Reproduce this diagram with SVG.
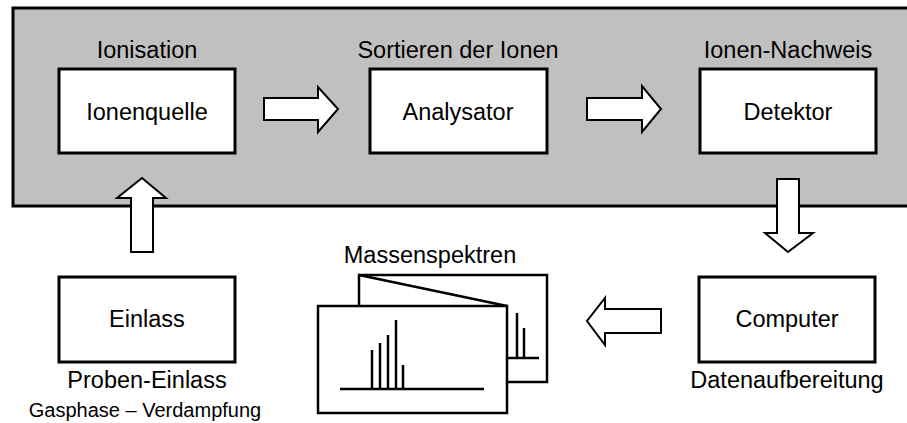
<svg xmlns="http://www.w3.org/2000/svg" width="907" height="423" viewBox="0 0 907 423">
  <style>
    .box { fill: #ffffff; stroke: #000000; stroke-width: 3; }
    .arrow { fill: #ffffff; stroke: #000000; stroke-width: 2; stroke-linejoin: miter; }
    .card { fill: #ffffff; stroke: #000000; stroke-width: 2.5; }
    .peak { stroke: #000000; stroke-width: 2.5; fill: none; }
    text { font-family: "Liberation Sans", Arial, sans-serif; font-size: 23.5px; fill: #000000; text-anchor: middle; }
    .small { font-size: 20px; }
  </style>

  <!-- vacuum section (gray panel) -->
  <rect id="panel" x="13" y="8" width="910" height="198" fill="#c0c0c0" stroke="#000000" stroke-width="3"/>

  <!-- connectors: block arrows -->
  <g id="connectors">
    <!-- Ionenquelle -> Analysator -->
    <polygon class="arrow" points="264,98 318,98 318,87 338,109 318,132 318,120 264,120"/>
    <!-- Analysator -> Detektor -->
    <polygon class="arrow" points="587,98 642,98 642,86 661,109 642,132 642,120 587,120"/>
    <!-- Detektor -> Computer -->
    <polygon class="arrow" points="777,179 799,179 799,233 813,233 788,252 765,233 777,233"/>
    <!-- Computer -> Massenspektren -->
    <polygon class="arrow" points="661,309 605,309 605,298 587,321 605,345 605,333 661,333"/>
    <!-- Einlass -> Ionenquelle -->
    <polygon class="arrow" points="131,252 153,252 153,198 166,198 142,178 117,198 131,198"/>
  </g>

  <g id="ionenquelle">
    <text x="147" y="58">Ionisation</text>
    <rect class="box" x="59" y="69" width="176" height="84"/>
    <text x="147" y="120">Ionenquelle</text>
  </g>

  <g id="analysator">
    <text x="458" y="58">Sortieren der Ionen</text>
    <rect class="box" x="370" y="69" width="177" height="84"/>
    <text x="458" y="120">Analysator</text>
  </g>

  <g id="detektor">
    <text x="788" y="58">Ionen-Nachweis</text>
    <rect class="box" x="700" y="69" width="176" height="84"/>
    <text x="788" y="120">Detektor</text>
  </g>

  <g id="einlass">
    <rect class="box" x="59" y="277" width="176" height="85"/>
    <text x="147" y="327">Einlass</text>
    <text x="147" y="388">Proben-Einlass</text>
    <text class="small" x="145" y="417">Gasphase – Verdampfung</text>
  </g>

  <g id="computer">
    <rect class="box" x="699" y="277" width="176" height="85"/>
    <text x="787" y="327">Computer</text>
    <text x="787" y="388">Datenaufbereitung</text>
  </g>

  <g id="massenspektren">
    <text x="430" y="263">Massenspektren</text>
    <!-- back sheet -->
    <rect class="card" x="359" y="275" width="188" height="107"/>
    <line class="peak" x1="507" y1="358" x2="539" y2="358"/>
    <line class="peak" x1="517" y1="358" x2="517" y2="313"/>
    <line class="peak" x1="524" y1="358" x2="524" y2="328"/>
    <!-- front sheet -->
    <rect class="card" x="318" y="306" width="189" height="107"/>
    <line class="peak" x1="359" y1="275" x2="507" y2="306"/>
    <line class="peak" x1="340" y1="389" x2="484" y2="389"/>
    <line class="peak" x1="372" y1="389" x2="372" y2="350"/>
    <line class="peak" x1="380" y1="389" x2="380" y2="343"/>
    <line class="peak" x1="388" y1="389" x2="388" y2="335"/>
    <line class="peak" x1="396" y1="389" x2="396" y2="320"/>
    <line class="peak" x1="403" y1="389" x2="403" y2="365"/>
  </g>
</svg>
